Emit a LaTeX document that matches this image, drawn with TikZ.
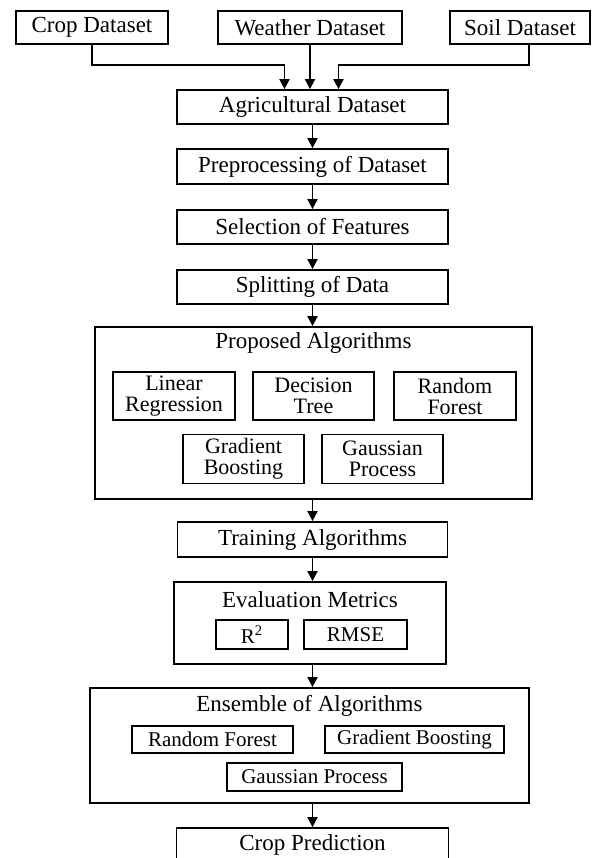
\documentclass[tikz,border=0pt]{standalone}
\usepackage{fontspec}
\setmainfont{Liberation Serif}
\usetikzlibrary{arrows.meta}
\begin{document}
\begin{tikzpicture}[x=0.5pt,y=-0.5pt,
 box/.style={draw,line width=0.9pt,inner sep=0pt,align=center,font=\fontsize{11.5}{11}\selectfont},
 algbox/.style={box,font=\fontsize{11}{10.5}\selectfont},
 smallbox/.style={box,font=\fontsize{10.5}{10.5}\selectfont},
 arr/.style={line width=0.9pt,-{Stealth[length=5pt,width=5pt,inset=0pt]}}]
\useasboundingbox (0,0) rectangle (609,858);

 \node[box,minimum width=76pt,minimum height=16.5pt] at (92,27.5) (crop) {Crop Dataset};
 \node[box,minimum width=92pt,minimum height=16.5pt] at (310,27.5) (weather) {Weather Dataset};
 \node[box,minimum width=70pt,minimum height=16.5pt] at (520,27.5) (soil) {Soil Dataset};

 \node[box,minimum width=135.5pt,minimum height=17pt] at (312.5,107) (agri) {Agricultural Dataset};
 \node[box,minimum width=135.5pt,minimum height=17.5pt] at (312.5,166.5) (prep) {Preprocessing of Dataset};
 \node[box,minimum width=135.5pt,minimum height=17pt] at (312.5,227) (sel) {Selection of Features};
 \node[box,minimum width=135.5pt,minimum height=17pt] at (312.5,287) (split) {Splitting of Data};

 \node[box,minimum width=218.5pt,minimum height=86pt] at (313.5,413) (prop) {};
 \node[font=\fontsize{11.5}{11}\selectfont] at (313.5,343) (propt) {Proposed Algorithms};
 \node[algbox,minimum width=61pt,minimum height=24pt] at (174,396) (lr) {Linear\\Regression};
 \node[algbox,minimum width=60.5pt,minimum height=24pt] at (313.5,396) (dt) {Decision\\Tree};
 \node[algbox,minimum width=61pt,minimum height=24pt] at (455,396) (rf) {Random\\Forest};
 \node[algbox,minimum width=60.5pt,minimum height=24.5pt] at (243.5,459) (gb) {Gradient\\Boosting};
 \node[algbox,minimum width=60.5pt,minimum height=24.5pt] at (382.5,459) (gp) {Gaussian\\Process};

 \node[box,minimum width=135pt,minimum height=17.5pt] at (312.5,539.5) (train) {Training Algorithms};

 \node[box,minimum width=136pt,minimum height=41pt] at (310,623) (eval) {};
 \node[font=\fontsize{11.5}{11}\selectfont] at (310,600) (evalt) {Evaluation Metrics};
 \node[smallbox,minimum width=36pt,minimum height=14.5pt] at (252,634.5) (rsq) {R\textsuperscript{2}};
 \node[smallbox,minimum width=51.5pt,minimum height=14.5pt] at (355.5,634.5) (rmse) {RMSE};

 \node[box,minimum width=219.5pt,minimum height=57.5pt] at (309.5,745.5) (ens) {};
 \node[font=\fontsize{11.5}{11}\selectfont] at (309.5,706) (enst) {Ensemble of Algorithms};
 \node[smallbox,minimum width=80.5pt,minimum height=13.5pt] at (212.5,739.5) (erf) {Random Forest};
 \node[smallbox,minimum width=89.5pt,minimum height=13.5pt] at (414.5,739.5) (egb) {Gradient Boosting};
 \node[smallbox,minimum width=87.5pt,minimum height=14pt] at (314.5,777) (egp) {Gaussian Process};

 \node[box,minimum width=136pt,minimum height=17pt] at (312.5,845) (pred) {Crop Prediction};

\draw[arr] (crop.south) -- ++(0,20) -| ([xshift=-14pt]agri.north);
\draw[arr] (weather.south) -- (weather.south |- agri.north);
\draw[arr] ([xshift=4.5pt]soil.south) -- ++(0,20) -| ([xshift=13pt]agri.north);
\draw[arr] (agri.south) -- (agri.south |- prep.north);
\draw[arr] (prep.south) -- (prep.south |- sel.north);
\draw[arr] (sel.south) -- (sel.south |- split.north);
\draw[arr] (split.south) -- (split.south |- prop.north);
\draw[arr] (split.south |- prop.south) -- (split.south |- train.north);
\draw[arr] (train.south) -- (train.south |- eval.north);
\draw[arr] (train.south |- eval.south) -- (train.south |- ens.north);
\draw[arr] (train.south |- ens.south) -- (train.south |- pred.north);
\end{tikzpicture}
\end{document}
